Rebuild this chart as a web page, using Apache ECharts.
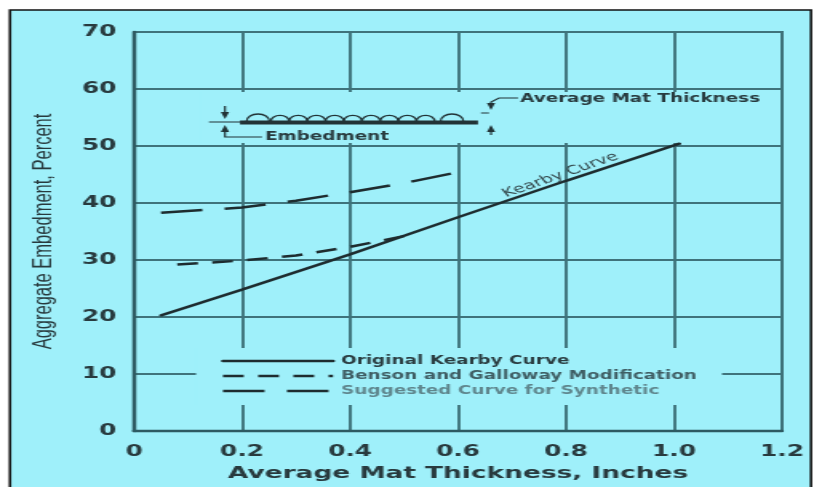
<!DOCTYPE html>
<html><head><meta charset="utf-8">
<script src="https://cdn.jsdelivr.net/npm/echarts@6/dist/echarts.min.js"></script>
<style>
html,body{margin:0;padding:0;background:#fff;overflow:hidden;width:814px;height:487px;}
#wrap{position:absolute;left:0;top:0;width:509px;height:487px;transform:scaleX(1.59921);transform-origin:0 0;}
#chart{width:509px;height:487px;}
</style></head><body>
<div id="wrap"><div id="chart"></div></div>
<script>
// ---- data ----
const xTicks = ['0','0.2','0.4','0.6','0.8','1.0','1.2'];
const yTicks = ['0','10','20','30','40','50','60','70'];
const seriesNames = ['Original Kearby Curve','Benson and Galloway Modification','Suggested Curve for Synthetic'];
const kearbyX = [0.05, 0.2, 0.4, 0.6, 0.8, 1.01];
const kearbyY = [20.3, 24.8, 31.0, 37.5, 43.9, 50.4];
const bensonX = [0.08, 0.2, 0.3, 0.4, 0.5];
const bensonY = [29.2, 29.9, 30.8, 32.3, 34.2];
const synthX = [0.05, 0.2, 0.3, 0.4, 0.5, 0.6];
const synthY = [38.3, 39.2, 40.4, 41.9, 43.5, 45.4];
const xTitle = 'Average Mat Thickness, Inches';
const yTitle = 'Aggregate Embedment, Percent';
const curveLabel = 'Kearby Curve';
const curveLabelAt = [0.79, 44.9];
const insetLabels = ['Average Mat Thickness', 'Embedment'];

// ---- styling ----
const S = 814 / 509;              // horizontal stretch of the source picture
const u = x => x / S;             // final px -> chart px (horizontal)
const BG = '#9ff0fa';
const GRID = '#3f737b';
const AX = '#2e5a62';
const TXT = '#283a3e';
const LINE = '#1e2c2f';
const F = 'DejaVu Sans';

const zip = (a, b) => a.map((v, i) => [v, b[i]]);

const chart = echarts.init(document.getElementById('chart'));

// inset schematic (annotation drawing)
const ink = '#223336';
const inset = [];
inset.push({type:'line', shape:{x1:u(209), y1:122, x2:u(242), y2:122}, style:{stroke:ink, lineWidth:1}});
inset.push({type:'rect', shape:{x:u(240), y:120.5, width:u(238), height:4}, style:{fill:ink}});
inset.push({type:'arc', shape:{cx:u(258), cy:121, r:7, startAngle:Math.PI, endAngle:2*Math.PI}, style:{stroke:ink, fill:null, lineWidth:1.3}});
for (let k = 0; k < 9; k++) {
  inset.push({type:'arc', shape:{cx:u(280 + 18.2*k), cy:121, r:5.6, startAngle:Math.PI, endAngle:2*Math.PI}, style:{stroke:ink, fill:null, lineWidth:1.3}});
}
inset.push({type:'arc', shape:{cx:u(452), cy:121, r:7, startAngle:Math.PI, endAngle:2*Math.PI}, style:{stroke:ink, fill:null, lineWidth:1.3}});
const ax = u(225), bx = u(491), hw = 2.6;
inset.push({type:'line', shape:{x1:ax, y1:106, x2:ax, y2:114}, style:{stroke:ink, lineWidth:1.2}});
inset.push({type:'polygon', shape:{points:[[ax-hw,112],[ax+hw,112],[ax,119]]}, style:{fill:ink}});
inset.push({type:'polygon', shape:{points:[[ax-hw,132],[ax+hw,132],[ax,125]]}, style:{fill:ink}});
inset.push({type:'polyline', shape:{points:[[ax,130],[ax,137],[u(262),137]]}, style:{stroke:ink, lineWidth:1.2, fill:null}});
inset.push({type:'text', x:u(265), y:137, style:{text:insetLabels[1], fill:TXT, font:'bold 11.5px "DejaVu Sans"', verticalAlign:'middle', align:'left'}});
inset.push({type:'polygon', shape:{points:[[bx-hw,103],[bx+hw,103],[bx,110]]}, style:{fill:ink}});
inset.push({type:'polyline', shape:{points:[[bx,104],[bx,102],[u(499),98],[u(518),98]]}, style:{stroke:ink, lineWidth:1.1, fill:null}});
inset.push({type:'line', shape:{x1:u(481), y1:113, x2:u(489), y2:113}, style:{stroke:ink, lineWidth:1}});
inset.push({type:'polygon', shape:{points:[[bx-hw,132],[bx+hw,132],[bx,125]]}, style:{fill:ink}});
inset.push({type:'line', shape:{x1:bx, y1:130, x2:bx, y2:135}, style:{stroke:ink, lineWidth:1.2}});
inset.push({type:'text', x:u(520), y:99, style:{text:insetLabels[0], fill:TXT, font:'bold 11.5px "DejaVu Sans"', verticalAlign:'middle', align:'left'}});
inset.forEach(e => { e.z = 5; e.silent = true; });

const option = {
  animation: false,
  backgroundColor: '#ffffff',
  grid: {left: u(134), right: 509 - u(782), top: 32, bottom: 487 - 431, show: true, borderColor: AX, borderWidth: 1.8},
  xAxis: {
    type: 'value', min: 0, max: 1.2, interval: 0.2,
    axisLine: {show: true, onZero: false, lineStyle: {color: AX, width: 2.4}},
    axisTick: {show: false},
    splitLine: {show: true, lineStyle: {color: GRID, width: 1.9}},
    axisLabel: {formatter: (v, i) => xTicks[i], margin: 13, fontSize: 15.5, fontWeight: 'bold', fontFamily: F, color: TXT},
    name: xTitle, nameLocation: 'middle', nameGap: 33,
    nameTextStyle: {fontSize: 16.5, fontWeight: 'bold', fontFamily: F, color: TXT}
  },
  yAxis: {
    type: 'value', min: 0, max: 70, interval: 10,
    axisLine: {show: true, onZero: false, lineStyle: {color: AX, width: 2.4}},
    axisTick: {show: false},
    splitLine: {show: true, lineStyle: {color: GRID, width: 1.9}},
    axisLabel: {formatter: (v, i) => yTicks[i], margin: 11, fontSize: 15.5, fontWeight: 'bold', fontFamily: F, color: TXT},
    name: yTitle, nameLocation: 'middle', nameGap: 48,
    nameTextStyle: {fontSize: 16.5, fontFamily: 'Liberation Sans', color: TXT}
  },
  legend: {
    orient: 'vertical', left: u(213), top: 350, itemWidth: u(110), itemHeight: 14, itemGap: 3,
    selectedMode: false,
    itemStyle: {opacity: 0, borderWidth: 0},
    textStyle: {fontFamily: F, fontWeight: 'bold', fontSize: 11.5, color: TXT},
    lineStyle: {width: 2.5},
    data: [
      {name: seriesNames[0], textStyle: {color: '#2a3c40'}},
      {name: seriesNames[1], textStyle: {color: '#3f5e64'}},
      {name: seriesNames[2], textStyle: {color: '#5f868d'}}
    ]
  },
  graphic: [
    {type: 'rect', z: -10, silent: true, shape: {x: u(10), y: 10, width: u(801), height: 520}, style: {fill: BG, stroke: '#111', lineWidth: 1.6}},
    {type: 'rect', z: 1, silent: true, shape: {x: u(196), y: 348, width: u(722 - 196), height: 57}, style: {fill: BG}},
    {type: 'rect', z: 1, silent: true, shape: {x: u(200), y: 92, width: u(776 - 200), height: 51}, style: {fill: BG}},
    ...inset
  ],
  series: [
    {
      name: seriesNames[0], type: 'line', symbol: 'none', data: zip(kearbyX, kearbyY),
      lineStyle: {color: LINE, width: 2.5, cap: 'round'}, itemStyle: {color: LINE},
      markPoint: {
        symbol: 'circle', symbolSize: 0, silent: true,
        data: [{coord: curveLabelAt}],
        label: {show: true, position: 'inside', formatter: curveLabel, rotate: 28.7, fontSize: 12, fontFamily: F, color: '#33474b'}
      }
    },
    {
      name: seriesNames[1], type: 'line', symbol: 'none', data: zip(bensonX, bensonY),
      lineStyle: {color: LINE, width: 2.5, type: [13, 9]}, itemStyle: {color: LINE}
    },
    {
      name: seriesNames[2], type: 'line', symbol: 'none', data: zip(synthX, synthY),
      lineStyle: {color: LINE, width: 2.5, type: [26, 14]}, itemStyle: {color: LINE}
    }
  ]
};
chart.setOption(option);
</script>
</body></html>
